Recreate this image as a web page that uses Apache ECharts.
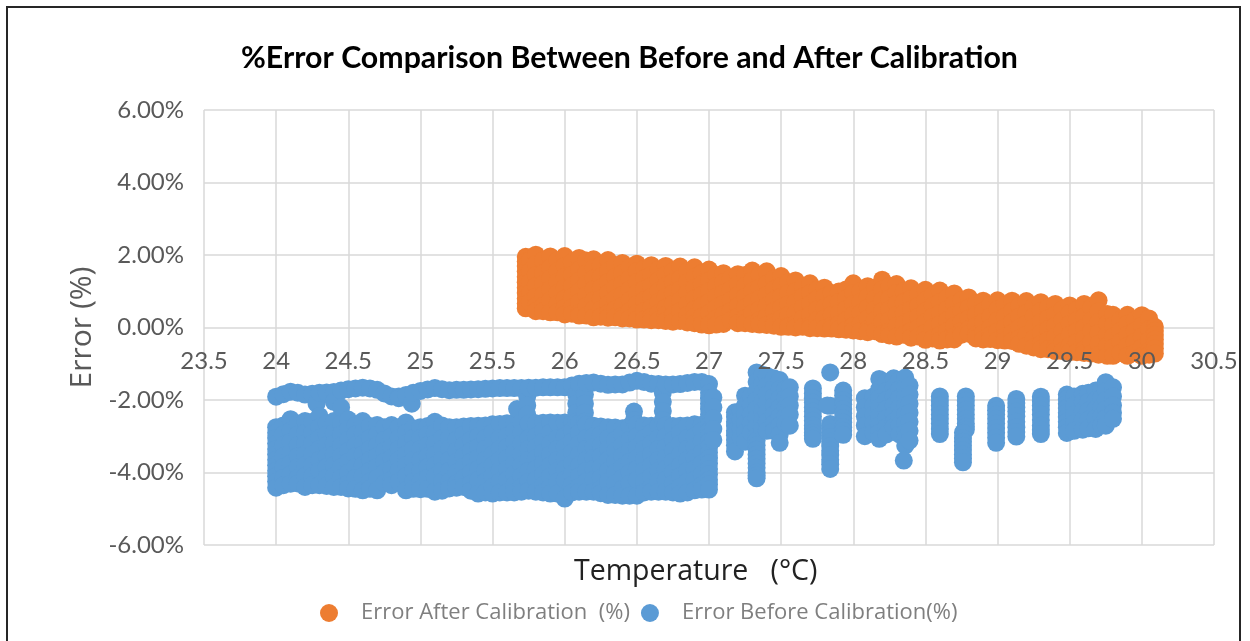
<!DOCTYPE html>
<html><head><meta charset="utf-8">
<style>html,body{margin:0;padding:0;background:#fff}#c{width:1250px;height:641px}</style>
<script src="https://cdn.jsdelivr.net/npm/echarts@6/dist/echarts.min.js"></script>
</head><body><div id="c"></div>
<script>
const titleText = '%Error Comparison Between Before and After Calibration';
const xTitle = 'Temperature   (°C)';
const yTitle = 'Error (%)';
const afterName = 'Error After Calibration  (%)';
const beforeName = 'Error Before Calibration(%)';
const xTicks = {min:23.5,max:30.5,step:0.5};
const yTicks = {min:-6,max:6,step:2};

// each row: temperature, then the errors (%) read at that temperature
const afterRows = [
[25.73,1.95,1.82,1.7,1.55,1.4,1.25,1.1,.95,.8,.66,.53],
[25.76,1.85,1.55,1.25,.95,.7],
[25.8,2.01,1.75,1.45,1.15,.85,.6,.45],
[25.85,1.85,1.5,1.2,.9,.6,.45],
[25.9,1.96,1.65,1.35,1.05,.75,.42],
[25.95,1.85,1.55,1.25,.95,.65,.42],
[26.0,1.97,1.7,1.4,1.1,.8,.55,.36],
[26.05,1.8,1.45,1.15,.85,.55,.38],
[26.1,1.92,1.6,1.3,1.0,.7,.4,.33],
[26.15,1.85,1.5,1.2,.9,.6,.33],
[26.2,1.88,1.65,1.35,1.05,.75,.5,.28],
[26.25,1.72,1.4,1.1,.8,.5,.3],
[26.3,1.86,1.55,1.25,.95,.65,.4,.27],
[26.35,1.72,1.4,1.1,.8,.5,.28],
[26.4,1.78,1.5,1.2,.9,.6,.32,.25],
[26.45,1.66,1.35,1.05,.75,.45,.25],
[26.5,1.76,1.55,1.25,.95,.65,.4,.22],
[26.55,1.62,1.35,1.05,.75,.45,.22],
[26.6,1.72,1.45,1.15,.85,.55,.3,.2],
[26.65,1.6,1.3,1.0,.7,.4,.2],
[26.7,1.7,1.45,1.15,.85,.55,.35,.18],
[26.75,1.55,1.25,.95,.65,.35,.16],
[26.8,1.68,1.35,1.05,.75,.45,.18],
[26.85,1.55,1.25,.95,.65,.35,.14],
[26.9,1.66,1.4,1.1,.8,.5,.3,.12],
[26.95,1.5,1.2,.9,.6,.3,.08],
[27.0,1.6,1.3,1.0,.7,.4,.1,.06],
[27.05,1.45,1.15,.85,.55,.25,.08],
[27.1,1.5,1.25,.95,.65,.35,.1],
[27.15,1.35,1.05,.75,.45,.2],
[27.2,1.47,1.2,.9,.6,.3,.12],
[27.25,1.45,1.15,.85,.55,.25,.12],
[27.3,1.57,1.3,1.0,.7,.4,.1],
[27.35,1.45,1.1,.8,.5,.2,.08],
[27.4,1.55,1.2,.9,.6,.3,.07],
[27.45,1.35,1.05,.75,.45,.15,.05],
[27.5,1.42,1.15,.85,.55,.25,.02],
[27.55,1.25,.95,.65,.35,.05,.02],
[27.6,1.3,1.0,.7,.4,.1,0],
[27.65,1.12,.85,.55,.25,.02],
[27.7,1.22,.95,.65,.35,.05,-.02],
[27.75,1.05,.8,.5,.2,-.02],
[27.8,1.1,.85,.55,.25,-.03],
[27.85,.95,.65,.35,.05,-.03],
[27.9,.99,.7,.4,.1,-.05],
[27.95,1.05,.8,.5,.2,-.06],
[28.0,1.22,.95,.65,.35,.05,-.08],
[28.05,1.0,.7,.4,.1,-.1],
[28.1,1.14,.85,.55,.25,-.05,-.13],
[28.15,1.1,.8,.5,.2,-.1],
[28.2,1.32,1.05,.75,.45,.15,-.18],
[28.25,1.15,.8,.5,.2,-.1,-.22],
[28.3,1.2,.95,.65,.35,.05,-.25],
[28.35,1.0,.7,.4,.1,-.2],
[28.4,1.08,.8,.5,.2,-.1,-.28],
[28.45,.92,.6,.3,0,-.25],
[28.5,1.04,.75,.45,.15,-.15,-.34],
[28.55,.9,.6,.3,0,-.3],
[28.6,1.02,.7,.4,.1,-.2,-.36],
[28.65,.82,.5,.2,-.1,-.33],
[28.7,.94,.65,.35,.05,-.25,-.33],
[28.75,.75,.45,.15,-.1,-.2],
[28.8,.83,.55,.25,-.05,-.17],
[28.85,.65,.35,.05,-.2,-.3],
[28.9,.74,.45,.15,-.15,-.33],
[28.95,.62,.3,0,-.2,-.32],
[29.0,.75,.5,.2,-.1,-.35],
[29.05,.62,.3,0,-.25,-.36],
[29.1,.74,.45,.15,-.15,-.37],
[29.15,.6,.3,0,-.3,-.45],
[29.2,.73,.4,.1,-.2,-.5],
[29.25,.58,.3,0,-.3,-.55],
[29.3,.7,.45,.15,-.15,-.45,-.6],
[29.35,.55,.25,-.05,-.35,-.6],
[29.4,.65,.35,.05,-.25,-.55,-.65],
[29.45,.5,.2,-.1,-.4,-.65],
[29.5,.61,.4,.1,-.2,-.5,-.68],
[29.55,.5,.2,-.1,-.4,-.68],
[29.6,.65,.3,0,-.3,-.6,-.7],
[29.65,.55,.2,-.1,-.4,-.72],
[29.7,.75,.45,.15,-.15,-.45,-.75],
[29.76,.37,.1,-.2,-.5,-.78],
[29.8,.35,.05,-.25,-.55,-.78],
[29.85,.2,-.1,-.4,-.7],
[29.9,.35,.1,-.2,-.5,-.78],
[29.95,.2,-.1,-.4,-.7],
[30.0,.34,.05,-.25,-.55,-.78],
[30.05,.25,-.05,-.35,-.65,-.75],
[30.09,.02,-.09,-.2,-.33,-.45,-.58,-.72]
];

const beforeRows = [
[24.0,-1.91,-2.75,-2.9,-3.05,-3.2,-3.35,-3.5,-3.65,-3.8,-3.95,-4.1,-4.25,-4.42],
[24.05,-1.84,-2.7,-2.95,-3.25,-3.55,-3.85,-4.15,-4.35],
[24.1,-1.77,-2.53,-2.85,-3.15,-3.45,-3.75,-4.05,-4.31],
[24.15,-1.8,-2.65,-2.95,-3.25,-3.55,-3.85,-4.15,-4.3],
[24.2,-1.85,-2.58,-2.9,-3.2,-3.5,-3.8,-4.1,-4.4],
[24.25,-1.83,-2.6,-2.9,-3.2,-3.5,-3.8,-4.1,-4.35],
[24.28,-2.1],
[24.3,-1.8,-2.44,-2.75,-3.05,-3.35,-3.65,-3.95,-4.35],
[24.35,-1.79,-2.65,-2.95,-3.25,-3.55,-3.85,-4.15,-4.37],
[24.4,-1.78,-2.05,-2.58,-2.9,-3.2,-3.5,-3.8,-4.1,-4.4],
[24.45,-1.74,-2.2,-2.65,-2.95,-3.25,-3.55,-3.85,-4.15,-4.4],
[24.5,-1.7,-2.54,-2.8,-3.1,-3.4,-3.7,-4.0,-4.3,-4.44],
[24.55,-1.68,-2.7,-2.95,-3.25,-3.55,-3.85,-4.15,-4.45],
[24.6,-1.66,-2.58,-2.9,-3.2,-3.5,-3.8,-4.1,-4.49],
[24.65,-1.68,-2.72,-3.05,-3.35,-3.65,-3.95,-4.25,-4.45],
[24.7,-1.72,-2.69,-2.95,-3.25,-3.55,-3.85,-4.15,-4.49],
[24.75,-1.82,-2.75,-3.1,-3.4,-3.7,-4.0,-4.3],
[24.8,-1.9,-2.69,-3.0,-3.3,-3.6,-3.9,-4.2,-4.35],
[24.85,-1.9,-1.95,-2.75,-3.05,-3.35,-3.65,-3.95,-4.25],
[24.9,-1.86,-2.62,-2.9,-3.2,-3.5,-3.8,-4.1,-4.49],
[24.94,-2.1],
[24.95,-1.8,-2.78,-3.05,-3.35,-3.65,-3.95,-4.25,-4.45],
[25.0,-1.75,-2.75,-3.05,-3.35,-3.65,-3.95,-4.25,-4.46],
[25.05,-1.71,-2.72,-2.95,-3.25,-3.55,-3.85,-4.15,-4.45],
[25.1,-1.67,-2.6,-2.9,-3.2,-3.5,-3.8,-4.1,-4.53],
[25.15,-1.7,-2.7,-3.05,-3.35,-3.65,-3.95,-4.25,-4.5],
[25.2,-1.73,-2.75,-3.05,-3.35,-3.65,-3.95,-4.25,-4.44],
[25.25,-1.72,-2.75,-3.1,-3.4,-3.7,-4.0,-4.3,-4.42],
[25.3,-1.72,-2.73,-2.95,-3.25,-3.55,-3.85,-4.15,-4.4],
[25.35,-1.71,-2.72,-3.1,-3.4,-3.7,-4.0,-4.3,-4.5],
[25.4,-1.7,-2.71,-3.0,-3.3,-3.6,-3.9,-4.2,-4.58],
[25.45,-1.69,-2.7,-3.05,-3.35,-3.65,-3.95,-4.25,-4.55],
[25.5,-1.68,-2.67,-2.9,-3.2,-3.5,-3.8,-4.1,-4.4,-4.58],
[25.55,-1.67,-2.66,-3.05,-3.35,-3.65,-3.95,-4.25,-4.55],
[25.6,-1.67,-2.64,-3.0,-3.3,-3.6,-3.9,-4.2,-4.55],
[25.65,-1.67,-2.63,-2.85,-3.15,-3.45,-3.75,-4.05,-4.35,-4.55],
[25.67,-2.25],
[25.7,-1.67,-2.62,-2.9,-3.2,-3.5,-3.8,-4.1,-4.4,-4.53],
[25.74,-1.9,-2.15,-2.4],
[25.75,-1.66,-2.65,-3.05,-3.35,-3.65,-3.95,-4.25,-4.5],
[25.8,-1.66,-2.64,-3.0,-3.3,-3.6,-3.9,-4.2,-4.53],
[25.85,-1.65,-2.63,-2.85,-3.15,-3.45,-3.75,-4.05,-4.35,-4.55],
[25.9,-1.65,-2.62,-2.9,-3.2,-3.5,-3.8,-4.1,-4.4,-4.58],
[25.95,-1.65,-2.63,-3.05,-3.35,-3.65,-3.95,-4.25,-4.58],
[26.0,-1.65,-2.62,-3.0,-3.3,-3.6,-3.9,-4.2,-4.72],
[26.05,-1.6,-2.63,-2.85,-3.15,-3.45,-3.75,-4.05,-4.35,-4.55],
[26.08,-1.85,-2.1,-2.35,-2.6],
[26.1,-1.55,-2.64,-2.9,-3.2,-3.5,-3.8,-4.1,-4.4,-4.53],
[26.14,-1.85,-2.1,-2.35,-2.6],
[26.15,-1.53,-2.68,-3.05,-3.35,-3.65,-3.95,-4.25,-4.53],
[26.2,-1.52,-2.71,-3.0,-3.3,-3.6,-3.9,-4.2,-4.53],
[26.25,-1.55,-2.73,-2.95,-3.25,-3.55,-3.85,-4.15,-4.45,-4.57],
[26.3,-1.58,-2.75,-3.05,-3.35,-3.65,-3.95,-4.25,-4.62],
[26.35,-1.57,-2.76,-3.1,-3.4,-3.7,-4.0,-4.3,-4.62],
[26.4,-1.57,-2.78,-2.95,-3.25,-3.55,-3.85,-4.15,-4.45,-4.64],
[26.45,-1.52,-2.72,-3.1,-3.4,-3.7,-4.0,-4.3,-4.64],
[26.48,-2.32,-2.55],
[26.5,-1.47,-2.67,-3.0,-3.3,-3.6,-3.9,-4.2,-4.64],
[26.55,-1.5,-2.7,-3.05,-3.35,-3.65,-3.95,-4.25,-4.55],
[26.6,-1.55,-2.71,-2.9,-3.2,-3.5,-3.8,-4.1,-4.4,-4.53],
[26.65,-1.56,-2.7,-3.05,-3.35,-3.65,-3.95,-4.25,-4.53],
[26.68,-1.8,-2.05,-2.3,-2.55],
[26.7,-1.57,-2.7,-3.0,-3.3,-3.6,-3.9,-4.2,-4.53],
[26.75,-1.57,-2.72,-3.1,-3.4,-3.7,-4.0,-4.3,-4.55],
[26.8,-1.56,-2.71,-2.9,-3.2,-3.5,-3.8,-4.1,-4.4,-4.58],
[26.85,-1.53,-2.7,-3.05,-3.35,-3.65,-3.95,-4.25,-4.55],
[26.9,-1.5,-2.67,-3.0,-3.3,-3.6,-3.9,-4.2,-4.49],
[26.95,-1.5,-2.68,-2.85,-3.15,-3.45,-3.75,-4.05,-4.35,-4.47],
[27.0,-1.56,-1.8,-1.95,-2.1,-2.25,-2.4,-2.55,-2.7,-2.85,-3.0,-3.15,-3.3,-3.45,-3.6,-3.75,-3.9,-4.05,-4.2,-4.33,-4.47],
[27.03,-1.93,-2.2,-2.5,-2.8,-3.1],
[27.18,-2.34,-2.47,-2.6,-2.72,-2.85,-2.97,-3.1,-3.25,-3.42],
[27.22,-2.3,-2.55,-2.8,-3.05],
[27.25,-1.88,-2.15,-2.4,-2.65,-2.9,-3.15],
[27.29,-1.9,-2.15,-2.4,-2.65,-2.9],
[27.33,-1.24,-1.5,-1.75,-2.0,-2.25,-2.5,-2.75,-3.0,-3.12,-3.25,-3.37,-3.5,-3.62,-3.75,-3.87,-4.0,-4.08,-4.16],
[27.37,-1.3,-1.55,-1.8,-2.05,-2.3,-2.55,-2.8],
[27.4,-1.33,-1.6,-1.85,-2.1,-2.35,-2.6,-2.85],
[27.45,-1.4,-1.65,-1.9,-2.15,-2.4,-2.65,-2.85],
[27.49,-1.45,-1.7,-1.95,-2.2,-2.45,-2.7,-2.95,-3.18],
[27.53,-1.7,-1.95,-2.2,-2.45,-2.65],
[27.56,-1.65,-1.9,-2.15,-2.4,-2.71],
[27.72,-1.68,-1.82,-1.95,-2.07,-2.2,-2.32,-2.45,-2.57,-2.7,-2.8,-2.9,-2.98,-3.07],
[27.84,-1.24],
[27.84,-2.16],
[27.84,-2.66,-2.78,-2.9,-3.02,-3.15,-3.27,-3.4,-3.52,-3.65,-3.77,-3.9],
[27.82,-2.15],
[27.93,-1.74,-1.87,-2.0,-2.12,-2.25,-2.37,-2.5,-2.62,-2.75,-2.85,-2.96],
[28.08,-1.95,-2.2,-2.45,-2.7,-3.0],
[28.14,-1.9,-2.15,-2.4,-2.65,-2.9],
[28.18,-1.42,-1.7,-1.95,-2.2,-2.45,-2.7,-2.9,-3.07],
[28.23,-1.5,-1.75,-2.0,-2.25,-2.5,-2.75,-2.95],
[28.28,-1.4,-1.65,-1.9,-2.15,-2.4,-2.6,-2.75],
[28.32,-1.45,-1.7,-1.95,-2.2,-2.45,-2.7,-2.95],
[28.36,-1.38,-1.65,-1.9,-2.15,-2.4,-2.65,-2.9,-3.05,-3.26],
[28.35,-3.67],
[28.39,-1.6,-1.85,-2.1,-2.35,-2.6,-2.85,-3.12],
[28.6,-1.9,-2.02,-2.15,-2.27,-2.4,-2.52,-2.65,-2.8,-2.94],
[28.78,-1.9,-2.02,-2.15,-2.27,-2.4,-2.52,-2.65,-2.74,-2.82],
[28.76,-2.9,-3.05,-3.15,-3.26,-3.38,-3.5,-3.61,-3.72],
[28.99,-2.16,-2.28,-2.4,-2.52,-2.65,-2.77,-2.9,-3.04,-3.18],
[29.13,-1.97,-2.08,-2.2,-2.32,-2.45,-2.6,-2.75,-2.88,-3.01],
[29.3,-1.91,-2.03,-2.15,-2.27,-2.4,-2.55,-2.7,-2.82,-2.94],
[29.48,-1.85,-1.97,-2.1,-2.22,-2.35,-2.47,-2.6,-2.75,-2.91],
[29.53,-1.9,-2.15,-2.4,-2.65,-2.85],
[29.59,-1.83,-2.05,-2.3,-2.55,-2.82],
[29.63,-1.8,-2.05,-2.3,-2.55,-2.78],
[29.68,-1.74,-2.0,-2.25,-2.5,-2.8],
[29.72,-1.7,-1.95,-2.2,-2.45,-2.7],
[29.75,-1.51,-1.75,-2.0,-2.25,-2.5,-2.71],
[29.8,-1.65,-1.9,-2.15,-2.35,-2.52]
];

const toPoints = rows => rows.flatMap(r => r.slice(1).map(v => [r[0], v]));
const ink = '#595959';
const chart = echarts.init(document.getElementById('c'));
chart.setOption({
  animation:false,
  backgroundColor:'#fff',
  title:[
    {text:titleText,left:241,top:43,padding:0,textStyle:{fontFamily:'Lato',fontWeight:'bold',fontSize:30.3,color:'#000'}},
    {text:xTitle,left:574,top:557,padding:0,textStyle:{fontFamily:'Open Sans',fontWeight:'normal',fontSize:28.5,color:'#222'}}
  ],
  legend:{
    left:320,top:602,padding:0,itemWidth:18,itemHeight:18,itemGap:11,icon:'circle',
    data:[afterName,beforeName],
    textStyle:{fontFamily:'Open Sans',fontSize:22,color:'#7f7f7f',padding:[0,0,0,18]}
  },
  grid:{left:204,top:110,right:36,bottom:96,containLabel:false},
  xAxis:[
    {type:'value',min:xTicks.min,max:xTicks.max,interval:xTicks.step,z:5,position:'bottom',offset:-217.5,
     axisLine:{show:false,onZero:false},axisTick:{show:false},splitLine:{show:false},
     axisLabel:{show:true,margin:22,fontFamily:'Lato',fontSize:24,color:ink,formatter:v=>String(v),showMinLabel:true,showMaxLabel:true}},
    {type:'value',min:xTicks.min,max:xTicks.max,interval:xTicks.step,position:'top',z:0,
     axisLine:{show:false},axisTick:{show:false},axisLabel:{show:false},
     splitLine:{show:true,lineStyle:{color:'#D9D9D9',width:1.5}}}
  ],
  yAxis:{type:'value',min:yTicks.min,max:yTicks.max,interval:yTicks.step,
    name:yTitle,nameLocation:'middle',nameGap:106,nameTextStyle:{fontFamily:'Open Sans',fontSize:30,color:ink},
    axisLine:{show:false},axisTick:{show:false},
    axisLabel:{margin:20,fontFamily:'Lato',fontSize:24,color:ink,formatter:v=>v.toFixed(2)+'%'},
    splitLine:{show:true,lineStyle:{color:'#D9D9D9',width:1.5}}},
  series:[
    {name:afterName,type:'scatter',xAxisIndex:0,symbolSize:18,data:toPoints(afterRows),itemStyle:{color:'#ED7D31',opacity:1}},
    {name:beforeName,type:'scatter',xAxisIndex:0,symbolSize:18,data:toPoints(beforeRows),itemStyle:{color:'#5B9BD5',opacity:1}}
  ],
  graphic:[{type:'rect',silent:true,z:-1,shape:{x:7,y:7,width:1233,height:700},style:{fill:'none',stroke:'#262626',lineWidth:2}}]
});
</script></body></html>
